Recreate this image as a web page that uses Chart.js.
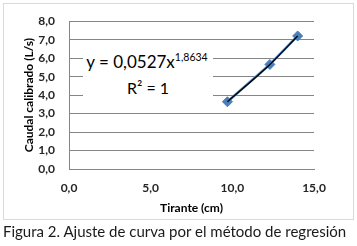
<!DOCTYPE html>
<html><head><meta charset="utf-8">
<script src="https://cdn.jsdelivr.net/npm/chart.js@4/dist/chart.umd.min.js"></script>
<style>
html,body{margin:0;padding:0;background:#fff;width:357px;height:246px;overflow:hidden;font-family:Lato, sans-serif}
#frame{position:absolute;left:3px;top:3px;width:349px;height:215px;border:1px solid #d9d9d9;box-sizing:content-box}
#c{position:absolute;left:0;top:0}
#eq{position:absolute;left:83px;top:46px;width:130px;height:58px;background:#fff;text-align:center;font-size:17px;color:#000;line-height:24px;padding-top:4px;box-sizing:border-box}
#eq .l1{white-space:nowrap;margin-left:-2px}
#eq sup{font-size:10.5px;vertical-align:0;position:relative;top:-7px}
#eq .l2{font-size:16px}
#cap{position:absolute;left:3px;top:222px;font-size:15px;line-height:18px;white-space:nowrap;color:#1a1a1a}
</style>
</head><body>
<div id="frame"></div>
<canvas id="c" width="357" height="246"></canvas>
<div id="eq"><div class="l1">y = 0,0527x<sup>1,8634</sup></div><div class="l2">R² = 1</div></div>
<div id="cap">Figura 2. Ajuste de curva por el método de regresión</div>
<script>
const tirante = [9.7, 12.3, 14.0];
const caudal = [3.64, 5.66, 7.20];
const xTickLabels = ['0,0', '5,0', '10,0', '15,0'];
const yTickLabels = ['0,0', '1,0', '2,0', '3,0', '4,0', '5,0', '6,0', '7,0', '8,0'];
const xTitle = 'Tirante (cm)';
const yTitle = 'Caudal calibrado (L/s)';

const points = tirante.map((x, i) => ({x: x, y: caudal[i]}));

Chart.defaults.font.family = 'Lato, sans-serif';
Chart.defaults.color = '#262626';

new Chart(document.getElementById('c'), {
  type: 'scatter',
  data: {
    datasets: [
      {
        label: 'Potencial',
        data: points,
        showLine: true,
        borderColor: '#000000',
        borderWidth: 1.3,
        pointRadius: 0,
        cubicInterpolationMode: 'monotone'
      },
      {
        label: 'Caudal',
        data: points,
        showLine: true,
        borderColor: '#4a7ebb',
        borderWidth: 2.5,
        pointStyle: 'rectRot',
        pointRadius: 5,
        pointBackgroundColor: '#4a7ebb',
        pointBorderColor: '#4a7ebb',
        pointBorderWidth: 1
      }
    ]
  },
  options: {
    responsive: false,
    animation: false,
    devicePixelRatio: 1,
    layout: {padding: {left: 0, top: 17, right: 43, bottom: 0}},
    plugins: {legend: {display: false}, tooltip: {enabled: false}},
    scales: {
      x: {
        type: 'linear', min: 0, max: 15,
        afterFit: s => { s.height = 77; },
        ticks: {stepSize: 5, padding: 12, font: {size: 12, weight: 'bold'},
                callback: (v, i) => xTickLabels[i]},
        grid: {display: false, drawTicks: false},
        border: {display: true, color: '#868686', width: 1},
        title: {display: true, text: xTitle, font: {size: 12, weight: 'bold'}, color: '#000',
                padding: {top: 0, bottom: 31}}
      },
      y: {
        type: 'linear', min: 0, max: 8,
        afterFit: s => { s.width = 69; },
        ticks: {stepSize: 1, padding: 14, font: {size: 12, weight: 'bold'},
                callback: (v, i) => yTickLabels[i]},
        grid: {color: '#868686', drawTicks: false, lineWidth: 1},
        border: {display: true, color: '#868686', width: 1},
        title: {display: true, text: yTitle, font: {size: 12, weight: 'bold'}, color: '#000',
                padding: {top: 22, bottom: 0}}
      }
    }
  }
});
</script>
</body></html>
